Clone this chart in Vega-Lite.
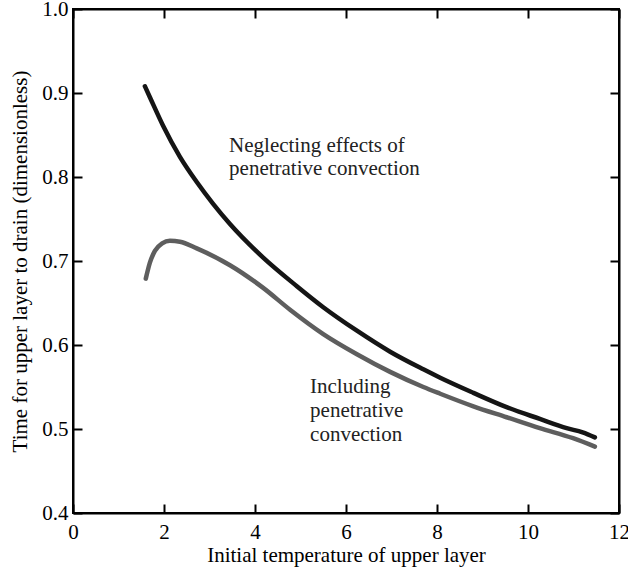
{
  "$schema": "https://vega.github.io/schema/vega-lite/v6.json",
  "autosize": "none",
  "width": 546,
  "height": 504,
  "padding": {"left": 73, "top": 9, "right": 9, "bottom": 61},
  "background": "white",
  "config": {
    "view": {"stroke": "black", "strokeWidth": 2},
    "font": "Liberation Serif",
    "axis": {
      "grid": false,
      "domainColor": "black",
      "domainWidth": 2,
      "tickColor": "black",
      "tickWidth": 2,
      "tickSize": -9,
      "labelFont": "Liberation Serif",
      "labelFontSize": 21,
      "labelColor": "black",
      "titleFont": "Liberation Serif",
      "titleFontSize": 21,
      "titleFontWeight": "normal",
      "titleColor": "black"
    }
  },
  "datasets": {
    "curves": [
      {"series": "Neglecting", "t": 1.58, "time": 0.908},
      {"series": "Neglecting", "t": 1.69, "time": 0.895},
      {"series": "Neglecting", "t": 1.98, "time": 0.861},
      {"series": "Neglecting", "t": 2.35, "time": 0.824},
      {"series": "Neglecting", "t": 2.72, "time": 0.794},
      {"series": "Neglecting", "t": 3.08, "time": 0.768},
      {"series": "Neglecting", "t": 3.45, "time": 0.744},
      {"series": "Neglecting", "t": 4.18, "time": 0.704},
      {"series": "Neglecting", "t": 4.92, "time": 0.670},
      {"series": "Neglecting", "t": 5.50, "time": 0.645},
      {"series": "Neglecting", "t": 6.24, "time": 0.617},
      {"series": "Neglecting", "t": 6.97, "time": 0.592},
      {"series": "Neglecting", "t": 7.70, "time": 0.571},
      {"series": "Neglecting", "t": 8.07, "time": 0.561},
      {"series": "Neglecting", "t": 8.80, "time": 0.543},
      {"series": "Neglecting", "t": 9.53, "time": 0.526},
      {"series": "Neglecting", "t": 10.26, "time": 0.512},
      {"series": "Neglecting", "t": 10.85, "time": 0.501},
      {"series": "Neglecting", "t": 11.20, "time": 0.496},
      {"series": "Neglecting", "t": 11.47, "time": 0.490},
      {"series": "Including", "t": 1.60, "time": 0.679},
      {"series": "Including", "t": 1.69, "time": 0.698},
      {"series": "Including", "t": 1.80, "time": 0.712},
      {"series": "Including", "t": 1.96, "time": 0.721},
      {"series": "Including", "t": 2.13, "time": 0.724},
      {"series": "Including", "t": 2.35, "time": 0.723},
      {"series": "Including", "t": 2.72, "time": 0.715},
      {"series": "Including", "t": 3.45, "time": 0.695},
      {"series": "Including", "t": 4.18, "time": 0.668},
      {"series": "Including", "t": 4.77, "time": 0.642},
      {"series": "Including", "t": 5.50, "time": 0.613},
      {"series": "Including", "t": 6.24, "time": 0.589},
      {"series": "Including", "t": 6.97, "time": 0.568},
      {"series": "Including", "t": 7.70, "time": 0.550},
      {"series": "Including", "t": 8.07, "time": 0.542},
      {"series": "Including", "t": 8.80, "time": 0.527},
      {"series": "Including", "t": 9.53, "time": 0.514},
      {"series": "Including", "t": 10.26, "time": 0.501},
      {"series": "Including", "t": 10.99, "time": 0.489},
      {"series": "Including", "t": 11.47, "time": 0.479}
    ],
    "notes": [
      {"label": "Neglecting effects of", "t": 3.43, "time": 0.830},
      {"label": "penetrative convection", "t": 3.43, "time": 0.802},
      {"label": "Including", "t": 5.21, "time": 0.5425},
      {"label": "penetrative", "t": 5.21, "time": 0.514},
      {"label": "convection", "t": 5.21, "time": 0.4855}
    ]
  },
  "layer": [
    {
      "data": {"name": "curves"},
      "mark": {"type": "line", "strokeWidth": 4.5, "strokeCap": "round", "strokeJoin": "round", "interpolate": "monotone"},
      "encoding": {
        "x": {
          "field": "t", "type": "quantitative",
          "scale": {"domain": [0, 12], "nice": false, "zero": false},
          "axis": {"values": [0, 2, 4, 6, 8, 10, 12], "title": "Initial temperature of upper layer", "labelPadding": 17, "titlePadding": 2, "labelFlush": false, "labelOverlap": false, "titleColor": "black"}
        },
        "y": {
          "field": "time", "type": "quantitative",
          "scale": {"domain": [0.4, 1.0], "nice": false, "zero": false},
          "axis": {"values": [0.4, 0.5, 0.6, 0.7, 0.8, 0.9, 1.0], "format": ".1f", "title": "Time for upper layer to drain (dimensionless)", "labelPadding": 14, "titlePadding": 11, "labelFlush": false, "labelOverlap": false, "titleColor": "black"}
        },
        "color": {
          "field": "series", "type": "nominal",
          "scale": {"domain": ["Neglecting", "Including"], "range": ["#151515", "#5e5e5e"]},
          "legend": null
        },
        "detail": {"field": "series"}
      }
    },
    {
      "data": {"name": "notes"},
      "mark": {"type": "text", "align": "left", "baseline": "alphabetic", "font": "Liberation Serif", "fontSize": 21, "color": "#222"},
      "encoding": {
        "x": {"field": "t", "type": "quantitative", "axis": null},
        "y": {"field": "time", "type": "quantitative", "axis": null},
        "text": {"field": "label"}
      }
    },
    {
      "data": {"values": [{"t": 0}]},
      "mark": {"type": "rule", "opacity": 0},
      "encoding": {
        "x": {"field": "t", "type": "quantitative", "axis": {"orient": "top", "values": [0, 2, 4, 6, 8, 10, 12], "labels": false, "title": null}}
      }
    },
    {
      "data": {"values": [{"time": 0.4}]},
      "mark": {"type": "rule", "opacity": 0},
      "encoding": {
        "y": {"field": "time", "type": "quantitative", "axis": {"orient": "right", "values": [0.4, 0.5, 0.6, 0.7, 0.8, 0.9, 1.0], "labels": false, "title": null}}
      }
    }
  ],
  "resolve": {"axis": {"x": "independent", "y": "independent"}}
}
